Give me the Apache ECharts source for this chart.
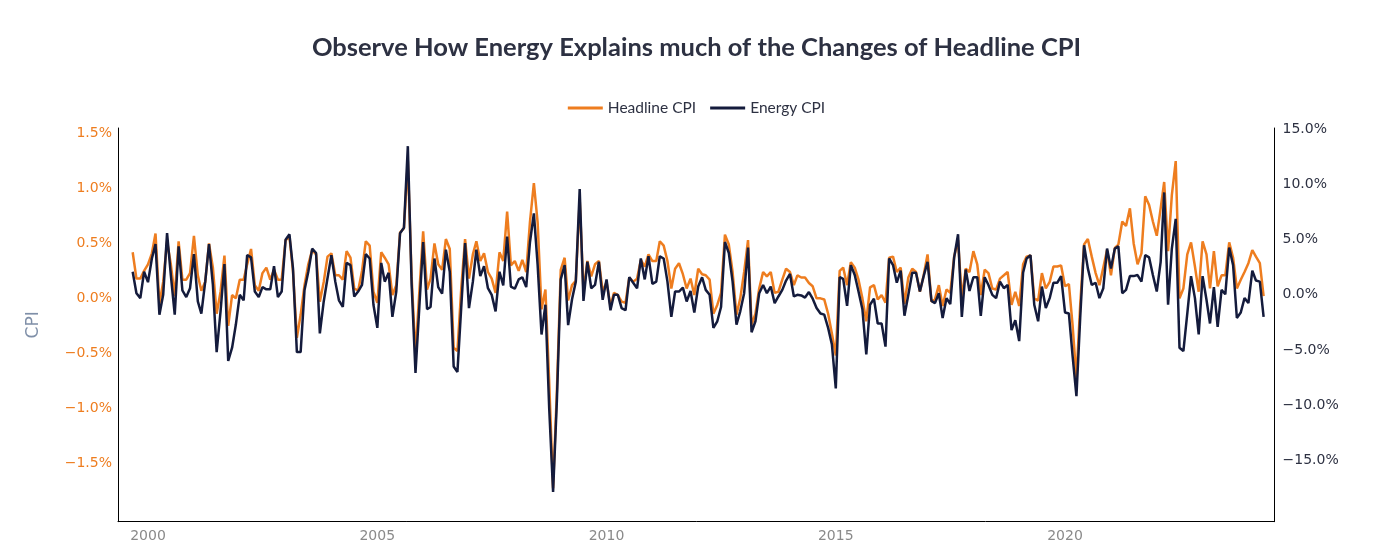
<!DOCTYPE html>
<html>
<head>
<meta charset="utf-8">
<script src="https://cdn.jsdelivr.net/npm/echarts@6/dist/echarts.min.js"></script>
<style>
  html, body { margin: 0; padding: 0; background: #ffffff; }
  #main { width: 1393px; height: 552px; }
</style>
</head>
<body>
<div id="main"></div>
<script>
// Monthly % change, first observation Sep 1999, last May 2024
const firstYear = 1999;
const firstMonth = 9; // September

const headlineCPI = [
  0.42, 0.18, 0.18, 0.25,                                              // 1999 Sep-Dec
  0.31, 0.41, 0.59, -0.05, 0.15, 0.52, 0.31, 0.02, 0.52, 0.17, 0.17, 0.23, // 2000
  0.57, 0.21, 0.07, 0.15, 0.50, 0.28, -0.14, 0.06, 0.39, -0.25, 0.03, 0.00, // 2001
  0.17, 0.17, 0.31, 0.45, 0.12, 0.07, 0.23, 0.28, 0.17, 0.26, 0.17, 0.17, // 2002
  0.53, 0.56, 0.25, -0.36, -0.15, 0.12, 0.31, 0.44, 0.40, -0.03, 0.15, 0.38, // 2003
  0.41, 0.21, 0.21, 0.17, 0.43, 0.37, 0.09, 0.07, 0.25, 0.52, 0.48, 0.06, // 2004
  -0.04, 0.42, 0.37, 0.31, 0.03, 0.12, 0.60, 0.64, 1.25, 0.20, -0.52, 0.05, // 2005
  0.61, 0.08, 0.18, 0.50, 0.31, 0.26, 0.54, 0.45, -0.45, -0.48, 0.10, 0.54, // 2006
  0.18, 0.40, 0.52, 0.34, 0.41, 0.24, 0.18, 0.05, 0.42, 0.34, 0.79, 0.30, // 2007
  0.34, 0.25, 0.35, 0.24, 0.70, 1.05, 0.69, -0.10, 0.08, -0.76, -1.73, -0.85, // 2008
  0.26, 0.37, -0.02, 0.12, 0.16, 0.90, 0.06, 0.34, 0.20, 0.31, 0.34, 0.06, // 2009
  0.15, -0.07, 0.05, 0.03, -0.03, -0.04, 0.19, 0.15, 0.18, 0.35, 0.29, 0.40, // 2010
  0.34, 0.34, 0.52, 0.48, 0.34, 0.09, 0.27, 0.32, 0.22, 0.09, 0.18, 0.03, // 2011
  0.27, 0.22, 0.21, 0.17, -0.14, -0.06, 0.05, 0.58, 0.49, 0.24, -0.15, 0.00, // 2012
  0.24, 0.53, -0.24, -0.14, 0.09, 0.24, 0.20, 0.24, 0.05, 0.06, 0.17, 0.27, // 2013
  0.24, 0.12, 0.21, 0.19, 0.19, 0.14, 0.11, 0.00, 0.00, -0.01, -0.14, -0.32, // 2014
  -0.52, 0.25, 0.28, 0.12, 0.33, 0.28, 0.17, 0.00, -0.21, 0.10, 0.12, -0.01, // 2015
  0.03, -0.04, 0.37, 0.38, 0.24, 0.28, -0.05, 0.19, 0.27, 0.24, 0.06, 0.21, // 2016
  0.40, -0.03, -0.01, 0.12, -0.07, 0.08, 0.05, 0.38, 0.53, 0.00, 0.27, 0.24, // 2017
  0.43, 0.31, 0.03, 0.26, 0.23, 0.09, 0.08, 0.18, 0.21, 0.24, -0.06, 0.06, // 2018
  -0.07, 0.31, 0.38, 0.39, 0.00, -0.02, 0.23, 0.09, 0.15, 0.29, 0.29, 0.30, // 2019
  0.11, 0.13, -0.24, -0.73, -0.06, 0.49, 0.54, 0.38, 0.23, 0.12, 0.28, 0.44, // 2020
  0.21, 0.46, 0.49, 0.70, 0.66, 0.82, 0.50, 0.31, 0.41, 0.93, 0.85, 0.70, // 2021
  0.57, 0.82, 1.06, 0.43, 0.94, 1.25, 0.00, 0.09, 0.40, 0.51, 0.29, 0.06, // 2022
  0.52, 0.40, 0.09, 0.43, 0.11, 0.21, 0.21, 0.51, 0.37, 0.09, 0.17, 0.24, // 2023
  0.32, 0.44, 0.38, 0.32, 0.02                                           // 2024 Jan-May
];

const energyCPI = [
  2.1, 0.15, -0.3, 2.1,                                                  // 1999 Sep-Dec
  1.15, 3.3, 4.6, -1.8, 0.0, 5.6, 1.8, -1.8, 4.4, 0.4, -0.2, 0.6,        // 2000
  3.7, -0.6, -1.7, 1.2, 4.6, 0.9, -5.2, -1.5, 2.8, -6.0, -4.8, -2.7,     // 2001
  0.0, -0.5, 3.6, 3.4, 0.3, -0.2, 0.7, 0.5, 0.5, 2.6, -0.2, 0.3,         // 2002
  5.0, 5.5, 2.4, -5.2, -5.2, 0.45, 2.1, 4.2, 3.8, -3.5, -0.6, 1.5,       // 2003
  3.6, 1.2, -0.5, -1.1, 2.9, 2.7, -0.15, 0.3, 0.9, 3.7, 3.3, -0.9,       // 2004
  -3.0, 2.9, 1.2, 2.0, -2.0, 0.3, 5.6, 6.1, 13.5, 1.0, -7.1, -1.2,       // 2005
  4.8, -1.3, -1.1, 3.3, 0.7, 0.1, 4.1, 2.1, -6.5, -7.0, -1.0, 4.7,       // 2006
  -1.2, 1.2, 4.1, 1.7, 2.6, 0.6, 0.0, -1.5, 2.1, 0.85, 5.3, 0.75,        // 2007
  0.55, 1.4, 1.6, 0.7, 4.8, 7.4, 2.7, -3.6, -0.9, -10.3, -17.9, -9.7,    // 2008
  1.4, 2.7, -2.75, -0.4, 1.2, 9.6, -0.55, 3.0, 0.6, 0.9, 3.0, -0.45,     // 2009
  1.4, -1.4, 0.0, 0.0, -1.2, -1.4, 1.6, 1.1, 0.6, 3.3, 1.4, 3.5,         // 2010
  1.0, 1.2, 3.5, 3.3, 1.2, -2.0, 0.3, 0.3, 0.65, -0.6, 0.35, -1.6,       // 2011
  0.75, 1.6, 0.45, 0.0, -3.0, -2.4, -1.1, 4.8, 3.8, 1.2, -2.7, -1.5,     // 2012
  0.15, 4.3, -3.4, -2.4, 0.15, 0.9, 0.15, 0.75, -0.75, -0.15, 0.45, 1.3, // 2013
  1.9, -0.15, 0.0, -0.05, -0.25, 0.25, -0.35, -1.2, -1.7, -1.8, -3.0, -4.5, // 2014
  -8.5, 1.6, 1.45, -1.0, 2.7, 1.8, 0.3, -1.3, -5.4, -0.9, -0.35, -2.6,   // 2015
  -2.6, -4.7, 3.3, 2.7, 1.1, 2.2, -1.9, 0.0, 2.0, 2.0, 0.3, 1.7,         // 2016
  3.0, -0.55, -0.75, 0.15, -2.1, -0.3, -0.85, 3.4, 5.5, -2.0, 2.3, 0.35, // 2017
  1.6, 1.6, -1.9, 1.6, 0.9, 0.0, -0.3, 1.2, 0.6, 0.9, -3.2, -2.3,        // 2018
  -4.2, 2.0, 3.3, 3.6, -0.9, -2.4, 0.75, -1.2, -0.3, 1.1, 1.1, 1.7,      // 2019
  -1.6, -1.7, -5.5, -9.2, -2.1, 4.5, 2.4, 0.9, 1.1, -0.3, 0.6, 4.2,      // 2020
  2.4, 4.2, 4.4, 0.15, 0.45, 1.7, 1.7, 1.8, 1.2, 3.6, 3.4, 1.8,          // 2021
  0.3, 3.0, 9.3, -0.9, 4.2, 6.9, -4.8, -5.1, -1.7, 1.7, -0.3, -3.6,      // 2022
  1.7, -0.45, -2.6, 0.7, -2.9, 0.45, 0.05, 4.3, 2.7, -2.1, -1.6, -0.3,   // 2023
  -0.75, 2.2, 1.3, 1.2, -2.0                                             // 2024 Jan-May
];

const leftTicks = [-1.5, -1.0, -0.5, 0.0, 0.5, 1.0, 1.5];
const rightTicks = [-15, -10, -5, 0, 5, 10, 15];
const yearTicks = [2000, 2005, 2010, 2015, 2020];

// observation dates as fractional years (linear in time, like a date axis)
const MS_YEAR = 365.25 * 86400000;
const T2000 = Date.UTC(2000, 0, 1);
const dates = headlineCPI.map((_, i) => 2000 + (Date.UTC(firstYear, firstMonth - 1 + i, 1) - T2000) / MS_YEAR);

function pct(v) {
  const s = Math.abs(v).toFixed(1) + '%';
  return v < -1e-9 ? '\u2212' + s : s;
}

const chart = echarts.init(document.getElementById('main'));
chart.setOption({
  animation: false,
  backgroundColor: '#ffffff',
  title: {
    text: 'Observe How Energy Explains much of the Changes of Headline CPI',
    left: 'center',
    top: 30,
    textStyle: { fontFamily: 'Lato', fontWeight: 'bold', fontSize: 25.5, color: '#2d3142' }
  },
  legend: {
    top: 95,
    left: 'center',
    icon: 'rect',
    itemWidth: 35,
    itemHeight: 3,
    itemGap: 14,
    textStyle: { fontFamily: 'Lato', fontSize: 15.5, color: '#2d3142' },
    data: ['Headline CPI', 'Energy CPI']
  },
  grid: { left: 118, right: 118.5, top: 128, bottom: 30.3, containLabel: false },
  xAxis: {
    type: 'value',
    min: 1999.346,
    max: 2024.569,
    axisLine: { show: true, onZero: false, lineStyle: { color: '#000000', width: 1 } },
    axisTick: { show: false },
    splitLine: { show: false },
    axisLabel: {
      customValues: yearTicks,
      formatter: v => String(Math.round(v)),
      color: '#8a8a8a',
      fontFamily: 'DejaVu Sans',
      fontSize: 14,
      margin: 8
    }
  },
  yAxis: [
    {
      type: 'value',
      position: 'left',
      min: -2.035,
      max: 1.552,
      name: 'CPI',
      nameLocation: 'middle',
      nameGap: 76,
      nameTextStyle: { color: '#7f8fa8', fontSize: 17, fontFamily: 'DejaVu Sans' },
      axisLine: { show: true, onZero: false, lineStyle: { color: '#000000', width: 1 } },
      axisTick: { show: false },
      splitLine: { show: false },
      axisLabel: {
        customValues: leftTicks,
        formatter: pct,
        color: '#ee7d1f',
        fontFamily: 'DejaVu Sans',
        fontSize: 14,
        margin: 6
      }
    },
    {
      type: 'value',
      position: 'right',
      min: -20.6,
      max: 15.15,
      axisLine: { show: true, onZero: false, lineStyle: { color: '#000000', width: 1 } },
      axisTick: { show: false },
      splitLine: { show: false },
      axisLabel: {
        customValues: rightTicks,
        formatter: pct,
        color: '#2d3142',
        fontFamily: 'DejaVu Sans',
        fontSize: 14,
        margin: 8
      }
    }
  ],
  series: [
    {
      name: 'Headline CPI',
      type: 'line',
      yAxisIndex: 0,
      showSymbol: false,
      symbol: 'none',
      color: '#ee7d1f',
      lineStyle: { width: 2.5, color: '#ee7d1f' },
      data: dates.map((d, i) => [d, headlineCPI[i]])
    },
    {
      name: 'Energy CPI',
      type: 'line',
      yAxisIndex: 1,
      showSymbol: false,
      symbol: 'none',
      color: '#141b3c',
      lineStyle: { width: 2.5, color: '#141b3c' },
      data: dates.map((d, i) => [d, energyCPI[i]])
    }
  ]
});
</script>
</body>
</html>
